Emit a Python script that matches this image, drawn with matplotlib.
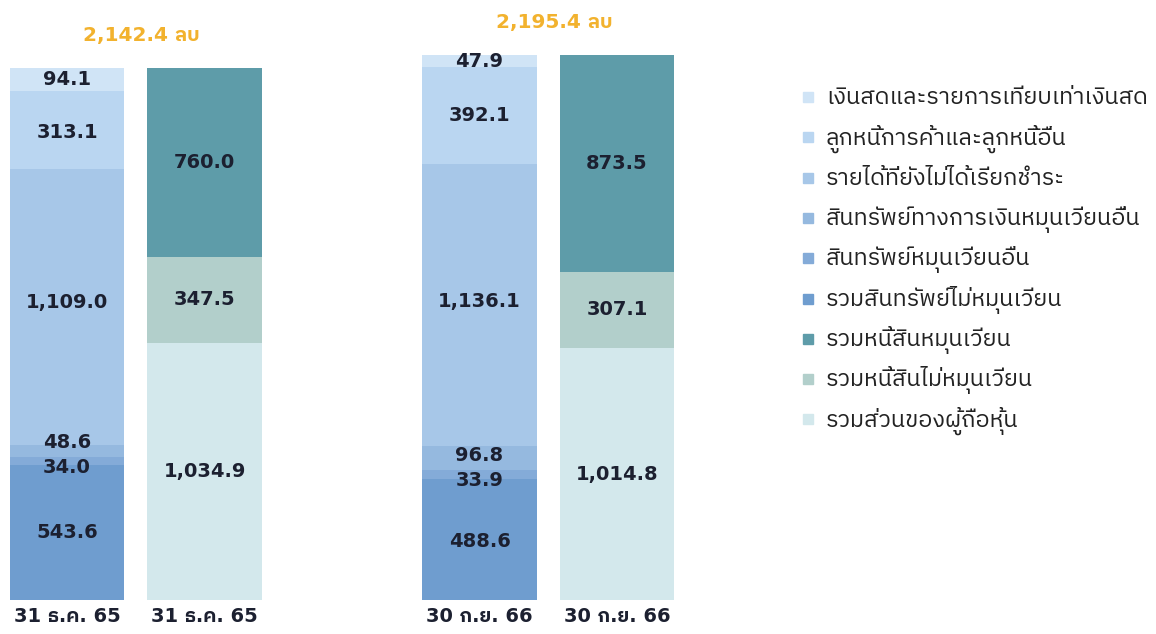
import matplotlib
matplotlib.use("Agg")
import matplotlib.pyplot as plt
from matplotlib import font_manager
from matplotlib.ft2font import FT2Font
from matplotlib.patches import Rectangle

# pick an installed family that actually has Thai glyphs
thai_fonts = []
for f in font_manager.fontManager.ttflist:
    try:
        if 0x0E01 in FT2Font(f.fname).get_charmap():
            thai_fonts.append(f.name)
    except Exception:
        pass
thai_fonts = sorted(set(thai_fonts), key=lambda n: (0 if "Thai" in n else 1, 0 if "Sans" in n else 1, n))
print("thai fonts:", thai_fonts)
plt.rcParams['font.family'] = ['DejaVu Sans'] + thai_fonts[:1]

categories = ['31 ธ.ค. 65', '31 ธ.ค. 65', '30 ก.ย. 66', '30 ก.ย. 66']
totals = ['2,142.4 ลบ', '2,195.4 ลบ']

# assets, bottom -> top
asset_names = ['รวมสินทรัพย์ไม่หมุนเวียน', 'สินทรัพย์หมุนเวียนอื่น',
               'สินทรัพย์ทางการเงินหมุนเวียนอื่น', 'รายได้ที่ยังไม่ได้เรียกชำระ',
               'ลูกหนี้การค้าและลูกหนี้อื่น', 'เงินสดและรายการเทียบเท่าเงินสด']
assets_65 = [543.6, 34.0, 48.6, 1109.0, 313.1, 94.1]
assets_66 = [488.6, 33.9, 96.8, 1136.1, 392.1, 47.9]
asset_colors = ['#6f9dcf', '#84abd8', '#95b9df', '#a7c7e8', '#bad6f1', '#d0e4f6']

# liabilities + equity, bottom -> top
liab_names = ['รวมส่วนของผู้ถือหุ้น', 'รวมหนี้สินไม่หมุนเวียน', 'รวมหนี้สินหมุนเวียน']
liab_65 = [1034.9, 347.5, 760.0]
liab_66 = [1014.8, 307.1, 873.5]
liab_colors = ['#d3e8ec', '#b2cfcb', '#5e9ca9']

legend_names = list(reversed(asset_names)) + list(reversed(liab_names))
legend_colors = list(reversed(asset_colors)) + list(reversed(liab_colors))

# label nudges (pixels) for the thin slices
asset_nudge_65 = [0, -7, 8, 4, -2, 0]
asset_nudge_66 = [-2, -6, 3, 4, 0, -1]

W, H = 1156.0, 634.0
fig = plt.figure(figsize=(W / 100, H / 100), dpi=100)
scale = 532 / 2142.4  # px per unit
ymax = 2420
ax = fig.add_axes([0, 34 / H, 700 / W, ymax * scale / H])

pos = [0, 1, 3, 4]
w = 0.83
px_per_x = 137.5
ax.set_xlim(-67 / px_per_x, (700 - 67) / px_per_x)
ax.set_ylim(0, ymax)

def stack(x, vals, colors, nudges):
    bottom = 0
    for v, c, d in zip(vals, colors, nudges):
        ax.bar(x, v, w, bottom=bottom, color=c, edgecolor='none')
        ax.annotate(f'{v:,.1f}', (x, bottom + v / 2), xytext=(0, d * 0.72),
                    textcoords='offset points', ha='center', va='center',
                    fontsize=14, fontweight='bold', color='#1c2030')
        bottom += v
    return bottom

t1 = stack(pos[0], assets_65, asset_colors, asset_nudge_65)
stack(pos[1], liab_65, liab_colors, [0, 0, 0])
t2 = stack(pos[2], assets_66, asset_colors, asset_nudge_66)
stack(pos[3], liab_66, liab_colors, [0, 0, 0])

for xc, tot, lab in [((pos[0] + pos[1]) / 2, t1, totals[0]), ((pos[2] + pos[3]) / 2, t2, totals[1])]:
    ax.annotate(lab, (xc, tot), xytext=(4, 32 * 0.72), textcoords='offset points',
                ha='center', va='center', fontsize=14.5, fontweight='bold', color='#f2b22e')

ax.set_xticks(pos)
ax.set_xticklabels(categories, fontsize=14, fontweight='bold', color='#1c2030')
ax.tick_params(axis='x', length=0, pad=5)
ax.set_yticks([])
for s in ax.spines.values():
    s.set_visible(False)

# legend drawn by hand so the rows stay evenly spaced despite Thai marks
row0, step = 97, 40.3
for i, (n, c) in enumerate(zip(legend_names, legend_colors)):
    yc = row0 + i * step
    fig.patches.append(Rectangle((803 / W, 1 - (yc + 5) / H), 10 / W, 10 / H,
                                 transform=fig.transFigure, color=c))
    fig.text(826 / W, 1 - (yc + 7) / H, n, ha='left', va='baseline',
             fontsize=16.8, color='#222222')

fig.savefig('out.png', dpi=100, facecolor='white')
